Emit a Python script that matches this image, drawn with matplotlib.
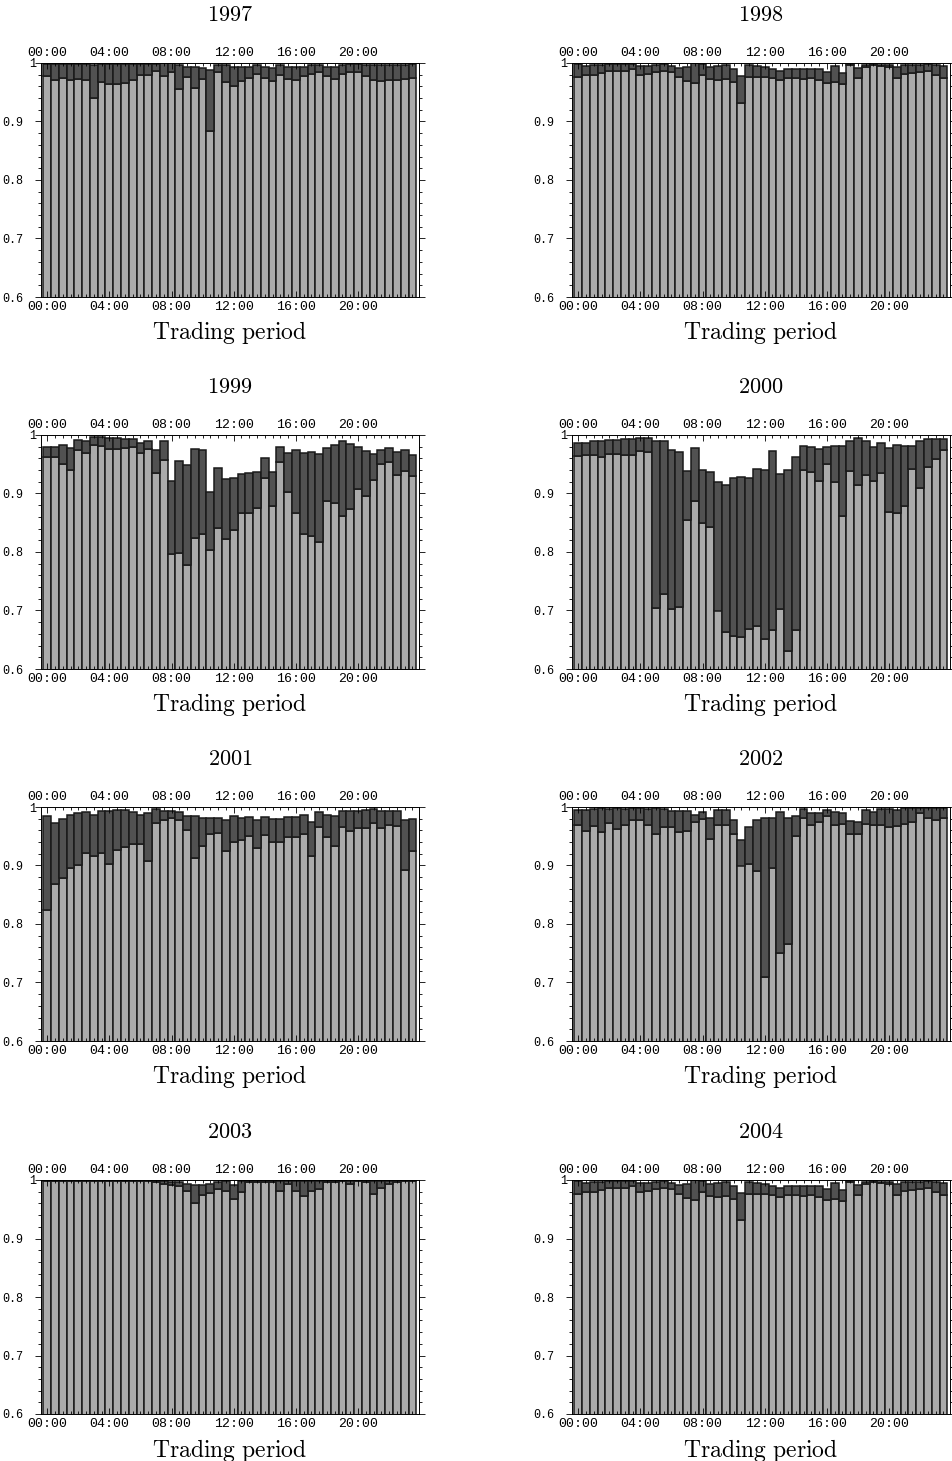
import matplotlib
matplotlib.use('Agg')
import matplotlib.pyplot as plt
from matplotlib.ticker import MultipleLocator, FixedLocator
import numpy as np

plt.rcParams['mathtext.fontset'] = 'cm'

# half-hourly trading periods, 48 per day
periods = np.arange(1, 49)
hour_ticks = [1, 9, 17, 25, 33, 41]
hour_labels = ['00:00', '04:00', '08:00', '12:00', '16:00', '20:00']
y_ticks = [0.6, 0.7, 0.8, 0.9, 1.0]
y_tick_labels = ['0.6', '0.7', '0.8', '0.9', '1']

low_1997 = [0.977, 0.971, 0.974, 0.971, 0.972, 0.971, 0.941, 0.968, 0.964, 0.964, 0.965, 0.971,
            0.980, 0.980, 0.987, 0.978, 0.984, 0.955, 0.976, 0.958, 0.973, 0.883, 0.984, 0.967,
            0.961, 0.970, 0.975, 0.981, 0.975, 0.969, 0.979, 0.973, 0.971, 0.978, 0.981, 0.984,
            0.977, 0.973, 0.981, 0.984, 0.984, 0.978, 0.971, 0.969, 0.971, 0.971, 0.973, 0.975]
high_1997 = [0.998, 0.998, 0.998, 0.998, 0.998, 0.998, 0.996, 0.998, 0.998, 0.998, 0.998, 0.998,
             0.998, 0.998, 0.998, 1.000, 1.000, 0.996, 0.994, 0.994, 0.992, 0.988, 0.997, 0.997,
             0.994, 0.994, 0.994, 0.997, 0.994, 0.991, 0.997, 0.994, 0.994, 0.994, 0.997, 0.997,
             0.994, 0.994, 0.997, 0.998, 0.998, 0.997, 0.997, 0.997, 0.997, 0.997, 0.997, 0.998]

low_1998 = [0.976, 0.979, 0.979, 0.983, 0.987, 0.987, 0.987, 0.990, 0.979, 0.981, 0.984, 0.987,
            0.984, 0.976, 0.970, 0.965, 0.980, 0.973, 0.971, 0.972, 0.967, 0.931, 0.976, 0.976,
            0.976, 0.974, 0.971, 0.974, 0.974, 0.972, 0.974, 0.971, 0.966, 0.968, 0.964, 0.997,
            0.974, 0.993, 0.996, 0.995, 0.993, 0.974, 0.981, 0.983, 0.984, 0.987, 0.979, 0.975]
high_1998 = [0.998, 0.995, 0.997, 0.997, 0.998, 0.998, 0.998, 0.998, 0.995, 0.995, 0.997, 0.998,
             0.995, 0.991, 0.993, 1.000, 0.999, 0.993, 0.995, 0.997, 0.990, 0.977, 0.997, 0.995,
             0.993, 0.990, 0.987, 0.990, 0.989, 0.989, 0.989, 0.989, 0.984, 0.995, 0.983, 0.998,
             0.991, 0.997, 0.998, 0.997, 0.997, 0.993, 0.997, 0.997, 0.997, 0.998, 0.997, 0.995]

low_1999 = [0.962, 0.963, 0.950, 0.940, 0.974, 0.970, 0.983, 0.981, 0.976, 0.976, 0.978, 0.979,
            0.970, 0.976, 0.935, 0.958, 0.797, 0.798, 0.777, 0.824, 0.830, 0.803, 0.841, 0.823,
            0.837, 0.866, 0.867, 0.875, 0.927, 0.878, 0.953, 0.902, 0.867, 0.831, 0.828, 0.817,
            0.887, 0.884, 0.861, 0.873, 0.907, 0.895, 0.923, 0.951, 0.953, 0.932, 0.938, 0.930]
high_1999 = [0.979, 0.979, 0.983, 0.977, 0.992, 0.990, 0.996, 0.996, 0.995, 0.995, 0.994, 0.994,
             0.986, 0.990, 0.974, 0.990, 0.921, 0.956, 0.949, 0.976, 0.974, 0.903, 0.943, 0.924,
             0.927, 0.934, 0.935, 0.936, 0.961, 0.936, 0.979, 0.970, 0.974, 0.970, 0.971, 0.968,
             0.977, 0.983, 0.990, 0.985, 0.980, 0.973, 0.968, 0.974, 0.977, 0.971, 0.974, 0.965]

low_2000 = [0.964, 0.965, 0.965, 0.962, 0.967, 0.967, 0.966, 0.965, 0.972, 0.971, 0.704, 0.729,
            0.703, 0.706, 0.855, 0.888, 0.850, 0.843, 0.700, 0.663, 0.656, 0.655, 0.669, 0.673,
            0.652, 0.667, 0.702, 0.631, 0.667, 0.940, 0.936, 0.921, 0.950, 0.919, 0.862, 0.938,
            0.914, 0.931, 0.922, 0.935, 0.869, 0.866, 0.878, 0.942, 0.909, 0.946, 0.959, 0.974]
high_2000 = [0.986, 0.986, 0.990, 0.989, 0.992, 0.992, 0.994, 0.994, 0.995, 0.995, 0.990, 0.989,
             0.975, 0.971, 0.938, 0.977, 0.940, 0.936, 0.919, 0.914, 0.927, 0.929, 0.926, 0.942,
             0.940, 0.972, 0.933, 0.940, 0.963, 0.981, 0.979, 0.976, 0.979, 0.982, 0.981, 0.989,
             0.995, 0.989, 0.979, 0.986, 0.977, 0.983, 0.982, 0.981, 0.989, 0.993, 0.993, 0.994]

low_2001 = [0.824, 0.869, 0.878, 0.896, 0.901, 0.922, 0.917, 0.922, 0.902, 0.926, 0.931, 0.937,
            0.937, 0.907, 0.972, 0.978, 0.981, 0.978, 0.960, 0.913, 0.933, 0.953, 0.956, 0.925,
            0.941, 0.944, 0.951, 0.930, 0.952, 0.940, 0.941, 0.948, 0.949, 0.953, 0.917, 0.966,
            0.949, 0.934, 0.966, 0.959, 0.964, 0.964, 0.972, 0.964, 0.969, 0.967, 0.892, 0.924]
high_2001 = [0.984, 0.972, 0.980, 0.986, 0.990, 0.991, 0.986, 0.994, 0.994, 0.995, 0.995, 0.992,
             0.986, 0.989, 0.997, 0.994, 0.994, 0.992, 0.984, 0.984, 0.982, 0.982, 0.982, 0.978,
             0.984, 0.982, 0.983, 0.978, 0.983, 0.980, 0.980, 0.983, 0.983, 0.986, 0.974, 0.992,
             0.987, 0.985, 0.993, 0.993, 0.994, 0.995, 0.997, 0.994, 0.993, 0.993, 0.978, 0.980]

low_2002 = [0.969, 0.959, 0.967, 0.957, 0.973, 0.962, 0.969, 0.977, 0.977, 0.969, 0.953, 0.966,
            0.966, 0.957, 0.959, 0.974, 0.979, 0.945, 0.969, 0.969, 0.953, 0.900, 0.902, 0.890,
            0.710, 0.895, 0.751, 0.765, 0.951, 0.981, 0.969, 0.975, 0.984, 0.969, 0.971, 0.954,
            0.953, 0.971, 0.969, 0.969, 0.966, 0.968, 0.971, 0.975, 0.990, 0.981, 0.977, 0.981]
high_2002 = [0.995, 0.995, 0.997, 0.998, 0.997, 0.998, 0.997, 0.998, 0.998, 0.997, 0.998, 0.997,
             0.993, 0.993, 0.993, 0.986, 0.991, 0.981, 0.995, 0.995, 0.978, 0.943, 0.966, 0.978,
             0.982, 0.981, 0.991, 0.982, 0.985, 0.996, 0.989, 0.990, 0.995, 0.991, 0.989, 0.976,
             0.974, 0.995, 0.991, 0.997, 0.996, 0.995, 0.998, 0.998, 0.998, 0.998, 0.998, 0.998]

low_2003 = [0.999, 0.999, 0.999, 0.999, 0.999, 0.999, 0.999, 0.999, 0.999, 0.999, 0.999, 0.998,
            0.998, 0.998, 0.996, 0.993, 0.991, 0.990, 0.982, 0.961, 0.975, 0.978, 0.985, 0.981,
            0.967, 0.979, 0.997, 0.997, 0.997, 0.997, 0.981, 0.993, 0.981, 0.973, 0.981, 0.985,
            0.996, 0.997, 0.999, 0.994, 0.998, 0.997, 0.976, 0.986, 0.994, 0.996, 0.999, 0.999]
high_2003 = [1.000, 1.000, 1.000, 1.000, 1.000, 1.000, 1.000, 1.000, 1.000, 1.000, 1.000, 0.999,
             0.999, 0.999, 0.999, 0.998, 0.997, 0.996, 0.994, 0.991, 0.991, 0.994, 0.997, 0.998,
             0.991, 0.999, 0.999, 0.999, 0.999, 0.999, 0.999, 0.999, 0.999, 0.999, 0.999, 0.999,
             0.999, 0.999, 1.000, 0.999, 1.000, 0.999, 0.999, 0.999, 0.999, 0.999, 1.000, 1.000]

low_2004 = [0.976, 0.979, 0.979, 0.983, 0.987, 0.987, 0.987, 0.990, 0.979, 0.981, 0.984, 0.987,
            0.984, 0.976, 0.970, 0.965, 0.980, 0.973, 0.971, 0.972, 0.967, 0.931, 0.976, 0.976,
            0.976, 0.974, 0.971, 0.974, 0.974, 0.972, 0.974, 0.971, 0.966, 0.968, 0.964, 0.997,
            0.974, 0.993, 0.996, 0.995, 0.993, 0.974, 0.981, 0.983, 0.984, 0.987, 0.979, 0.975]
high_2004 = [0.998, 0.995, 0.997, 0.997, 0.998, 0.998, 0.998, 0.998, 0.995, 0.995, 0.997, 0.998,
             0.995, 0.991, 0.993, 1.000, 0.999, 0.993, 0.995, 0.997, 0.990, 0.977, 0.997, 0.995,
             0.993, 0.990, 0.987, 0.990, 0.989, 0.989, 0.989, 0.989, 0.984, 0.995, 0.983, 0.998,
             0.991, 0.997, 0.998, 0.997, 0.997, 0.993, 0.997, 0.997, 0.997, 0.998, 0.997, 0.995]

panels = [('1997', low_1997, high_1997), ('1998', low_1998, high_1998),
          ('1999', low_1999, high_1999), ('2000', low_2000, high_2000),
          ('2001', low_2001, high_2001), ('2002', low_2002, high_2002),
          ('2003', low_2003, high_2003), ('2004', low_2004, high_2004)]

W, H = 952, 1461
fig = plt.figure(figsize=(W / 100, H / 100), dpi=100)
fig.patch.set_facecolor('white')

col_left = [41, 572]
row_top = [63, 435, 807, 1180]
ax_w, ax_h = 378, 234

light = '#ababab'
dark = '#515151'
edge = '#1a1a1a'

for i, (year, low, high) in enumerate(panels):
    r, c = divmod(i, 2)
    ax = fig.add_axes([col_left[c] / W, 1 - (row_top[r] + ax_h) / H, ax_w / W, ax_h / H])
    low = np.array(low)
    high = np.array(high)

    ax.bar(periods, low, width=1.0, color=light, edgecolor=edge, linewidth=1.1)
    ax.bar(periods, high - low, bottom=low, width=1.0, color=dark,
           edgecolor=edge, linewidth=1.1)

    ax.set_xlim(0.2, 48.85)
    ax.set_ylim(0.6, 1.0)

    ax.xaxis.set_major_locator(FixedLocator(hour_ticks))
    ax.set_xticklabels(hour_labels, family='Liberation Mono', fontsize=9.5)
    ax.xaxis.set_minor_locator(MultipleLocator(1))
    ax.tick_params(axis='x', which='both', direction='in', top=True, bottom=True,
                   labeltop=True, labelbottom=True, pad=3, width=0.6)
    ax.tick_params(axis='x', which='major', length=4)
    ax.tick_params(axis='x', which='minor', length=2.5)

    ax.set_yticks(y_ticks)
    ax.set_yticklabels(y_tick_labels, family='Liberation Mono', fontsize=8.5)
    ax.yaxis.set_minor_locator(MultipleLocator(0.02))
    ax.tick_params(axis='y', which='both', direction='out', left=True, right=True,
                   labelleft=True, labelright=False, pad=9, width=0.6)
    ax.tick_params(axis='y', which='major', length=4)
    ax.tick_params(axis='y', which='minor', length=2.5)
    # the "1" label sits closer to the axis
    ax.yaxis.get_major_ticks()[-1].label1.set_x(13 / ax_w)

    for sp in ax.spines.values():
        sp.set_linewidth(0.7)

    ax.text(0.5, 1 + 48 / ax_h, r'$\mathrm{' + year + '}$', transform=ax.transAxes,
            ha='center', va='center', fontsize=16)
    ax.text(0.5, -36 / ax_h, r'$\mathrm{Trading\ period}$', transform=ax.transAxes,
            ha='center', va='center', fontsize=17)

fig.savefig('out.png', dpi=100, facecolor='white')
